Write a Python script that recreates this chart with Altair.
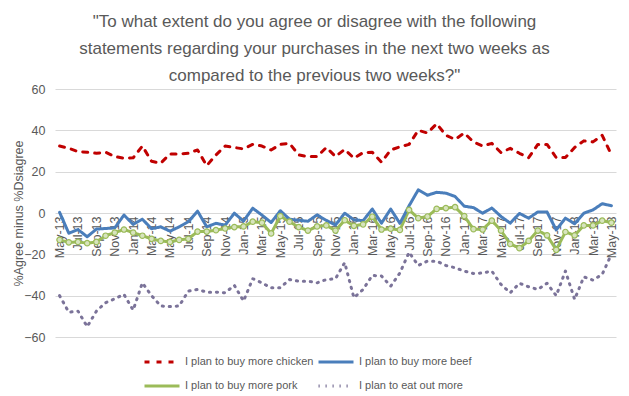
import altair as alt
import pandas as pd

months = [d.strftime("%b-%y") for d in pd.date_range("2013-05-01", "2018-05-01", freq="MS")]

chicken = [32.4, 31.3, 29.7, 29.4, 28.9, 29.4, 27.3, 26.5, 26.7, 32.4,
           25.0, 24.1, 28.6, 28.6, 28.9, 30.5, 22.9, 28.1, 32.4, 31.7,
           31.0, 33.2, 32.4, 30.5, 33.2, 33.7, 28.1, 27.3, 27.3, 31.7,
           27.3, 30.8, 26.5, 29.2, 29.4, 24.6, 30.5, 32.0, 33.2, 40.0,
           38.7, 43.2, 37.6, 35.6, 38.7, 34.4, 32.4, 33.7, 29.2, 31.3,
           28.9, 26.8, 33.2, 33.2, 26.8, 26.8, 31.7, 34.9, 34.4, 37.6,
           28.1]
beef = [0.3, -9.8, -8.0, -11.5, -7.8, -7.5, -7.2, -1.0, -5.5, -3.0,
        -7.6, -6.7, -8.8, -6.7, -4.2, 0.9, -6.7, -5.0, -5.9, -0.1,
        -3.9, 2.3, -1.0, -4.6, 1.1, -3.0, -3.5, -4.0, -0.9, -3.6,
        -5.8, -0.1, -3.3, -3.7, 1.9, -4.9, 1.9, -5.0, 3.5, 11.2,
        8.6, 10.0, 9.6, 8.0, 3.3, 2.6, -0.1, 2.4, -1.7, -4.9,
        -0.2, -2.5, 0.5, 0.5, -8.2, -2.5, -5.2, -0.1, 1.5, 4.5,
        3.5]
pork = [-13.0, -14.2, -14.0, -14.6, -14.0, -11.0, -9.5, -8.0, -9.5, -11.0,
        -12.5, -13.5, -14.0, -13.0, -12.5, -9.0, -9.0, -8.3, -7.5, -6.8,
        -6.5, -4.2, -4.7, -9.9, -1.5, -4.2, -6.8, -8.5, -6.5, -6.0,
        -8.5, -3.5, -6.2, -5.5, -1.8, -8.0, -7.6, -8.2, 1.5, -2.5,
        -1.7, 2.0, 2.4, 2.8, -1.5, -7.8, -8.0, -3.7, -8.5, -15.0,
        -17.0, -13.5, -8.5, -10.8, -17.8, -9.2, -10.8, -6.0, -6.0, -3.7,
        -4.7]
eat_out = [-40.0, -48.0, -47.5, -55.0, -47.5, -43.4, -41.5, -39.4, -47.0, -33.8,
           -40.0, -45.0, -45.3, -45.0, -37.8, -37.0, -38.3, -38.3, -38.6, -35.0,
           -42.6, -31.8, -33.8, -36.2, -36.2, -32.2, -33.0, -33.0, -33.8, -32.2,
           -31.8, -24.0, -41.0, -37.0, -30.2, -30.5, -35.4, -29.0, -19.0, -25.4,
           -23.3, -23.3, -25.4, -26.5, -28.1, -29.3, -29.0, -28.1, -34.6, -38.6,
           -34.0, -35.7, -37.0, -34.0, -40.0, -28.1, -41.8, -30.9, -32.5, -29.7,
           -20.0]

# legend fills column by column: this order gives rows chicken|beef, pork|eat out
series_names = ["I plan to buy more chicken", "I plan to buy more pork",
                "I plan to buy more beef", "I plan to eat out more"]
series_values = [chicken, pork, beef, eat_out]
colors = ["#C00000", "#9BBB59", "#4A7EBB", "#7B7399"]
dashes = [[5, 7], [1, 0], [1, 0], [1.2, 5.8]]

title_lines = ['"To what extent do you agree or disagree with the following',
               'statements regarding your purchases in the next two weeks as',
               'compared to the previous two weeks?"']

rows = []
for s, vals in zip(series_names, series_values):
    for m, v in zip(months, vals):
        rows.append({"month": m, "series": s, "value": v})
df = pd.DataFrame(rows)

FONT = "Liberation Sans"
GREY = "#595959"

x_enc = alt.X("month:O", sort=months, scale=alt.Scale(type="point", padding=0.5),
              axis=alt.Axis(values=months[::2], labelAngle=270, labelAlign="right",
                            labelBaseline="middle", labelPadding=3, domain=False,
                            ticks=False, grid=False, title=None, offset=-124,
                            labelFontSize=12.5, labelColor=GREY, labelFont=FONT))
y_enc = alt.Y("value:Q", scale=alt.Scale(domain=[-60, 60], nice=False),
              axis=alt.Axis(values=[-60, -40, -20, 0, 20, 40, 60], domain=False,
                            ticks=False, grid=True, gridColor="#D9D9D9",
                            labelFontSize=12.5, labelColor=GREY, labelFont=FONT,
                            labelPadding=10, title="%Agree minus %Dsiagree",
                            titleFont=FONT, titleFontSize=12.5, titleColor=GREY,
                            titleFontWeight="normal", titleX=-37, titleY=124,
                            titleAngle=270, titleAlign="center",
                            titleBaseline="middle"))

legend_kw = dict(title=None, orient="none", legendX=88, legendY=267,
                 columns=2, columnPadding=3, rowPadding=12,
                 symbolType="stroke", symbolSize=1225,
                 symbolStrokeWidth=3, clipHeight=12,
                 labelFont=FONT, labelFontSize=11,
                 labelColor=GREY, labelOffset=4, labelLimit=300)

lines = alt.Chart(df).mark_line(strokeWidth=3, strokeCap="round", strokeJoin="round").encode(
    x=x_enc,
    y=y_enc,
    color=alt.Color("series:N", sort=series_names,
                    scale=alt.Scale(domain=series_names, range=colors),
                    legend=alt.Legend(**legend_kw)),
    strokeDash=alt.StrokeDash("series:N", sort=series_names,
                              scale=alt.Scale(domain=series_names, range=dashes),
                              legend=alt.Legend(**legend_kw)),
)

points = alt.Chart(df).transform_filter(
    alt.datum.series == "I plan to buy more pork"
).mark_point(shape="circle", filled=False, size=30, fill="#D7E4BD", stroke="#9BBB59",
             strokeWidth=1.2, fillOpacity=1, opacity=1).encode(x=x_enc, y=y_enc)

chart = alt.layer(lines, points).properties(
    width=561, height=248,
    padding={"left": 47, "top": 81, "right": 5, "bottom": 58},
    autosize=alt.AutoSizeParams(type="none"),
    title=alt.TitleParams(text=title_lines, font=FONT, fontSize=17, color=GREY,
                          fontWeight="normal", anchor="middle", dx=-21,
                          lineHeight=27, offset=-2),
).configure_view(stroke=None)

chart.save("out.html", embed_options={"renderer": "svg", "actions": False})
